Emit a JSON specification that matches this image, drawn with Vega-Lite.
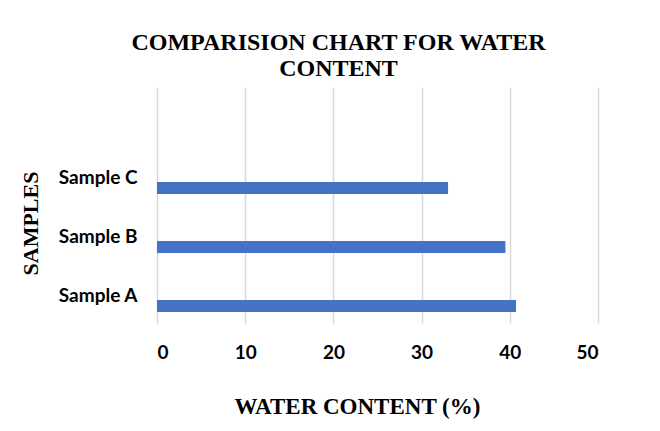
{
  "$schema": "https://vega.github.io/schema/vega-lite/v6.json",
  "autosize": {"type": "none"},
  "padding": {"left": 157, "top": 87, "right": 62, "bottom": 108},
  "width": 441,
  "height": 236,
  "background": "white",
  "title": {
    "text": ["COMPARISION CHART FOR WATER", "CONTENT"],
    "font": "Liberation Serif",
    "fontWeight": "bold",
    "fontSize": 24,
    "lineHeight": 26,
    "color": "#000000",
    "anchor": "middle",
    "frame": "group",
    "dx": -39,
    "offset": 6
  },
  "data": {
    "values": [
      {"sample": "Sample A", "water": 40.7},
      {"sample": "Sample B", "water": 39.5},
      {"sample": "Sample C", "water": 33.0}
    ]
  },
  "mark": {"type": "bar", "color": "#4472C4", "height": 12, "yOffset": 12.5},
  "encoding": {
    "y": {
      "field": "sample",
      "type": "nominal",
      "scale": {"domain": ["Sample C", "Sample B", "Sample A"], "paddingInner": 0, "paddingOuter": 0.5, "align": 1},
      "axis": {
        "title": "SAMPLES",
        "titleFont": "Liberation Serif",
        "titleFontWeight": "bold",
        "titleFontSize": 22,
        "titleColor": "#000000",
        "titleAngle": -90,
        "titleAlign": "center",
        "titleBaseline": "alphabetic",
        "titleX": -120,
        "titleY": 136,
        "labelFont": "Lato",
        "labelFontWeight": "bold",
        "labelFontSize": 19,
        "labelColor": "#000000",
        "labelPadding": 20,
        "labelOffset": 2,
        "domain": false,
        "ticks": false,
        "grid": false
      }
    },
    "x": {
      "field": "water",
      "type": "quantitative",
      "scale": {"domain": [0, 50], "nice": false},
      "axis": {
        "values": [0, 10, 20, 30, 40, 50],
        "title": "WATER CONTENT (%)",
        "titleFont": "Liberation Serif",
        "titleFontWeight": "bold",
        "titleFontSize": 23,
        "titleColor": "#000000",
        "titleAlign": "center",
        "titleBaseline": "alphabetic",
        "titleX": 200,
        "titleY": 90,
        "labelFont": "Lato",
        "labelFontWeight": "bold",
        "labelFontSize": 19,
        "labelColor": "#000000",
        "labelPadding": 20,
        "labelBaseline": "top",
        "domain": false,
        "ticks": false,
        "grid": true,
        "gridColor": "#d9d9d9",
        "gridWidth": 1.5
      }
    }
  },
  "config": {"view": {"stroke": null}}
}
